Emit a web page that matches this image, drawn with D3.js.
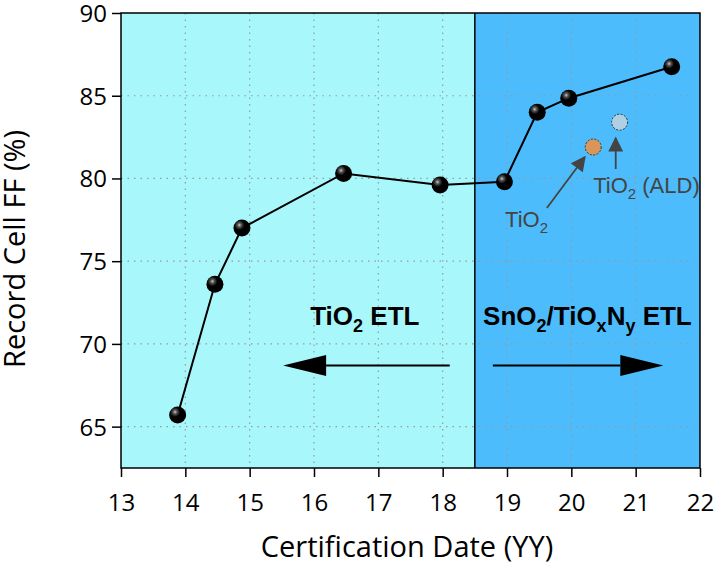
<!DOCTYPE html>
<html>
<head>
<meta charset="utf-8">
<script src="https://cdn.jsdelivr.net/npm/d3@7"></script>
<style>
  body { margin: 0; background: #fff; }
  svg { display: block; }
</style>
</head>
<body>
<svg width="715" height="564"></svg>
<script>
// Record cell FF data (date in YY, FF in %)
const years = [13.88, 14.46, 14.88, 16.46, 17.96, 18.96, 19.47, 19.96, 21.56];
const ffValues = [65.7, 73.6, 77.0, 80.3, 79.6, 79.8, 84.0, 84.85, 86.75];

// Extra single points
const extraNames = ["TiO2", "TiO2 (ALD)"];
const extraYears = [20.34, 20.75];
const extraValues = [81.9, 83.4];

const xTicks = [13, 14, 15, 16, 17, 18, 19, 20, 21, 22];
const yTicks = [65, 70, 75, 80, 85, 90];
const splitYear = 18.5;

const svg = d3.select("svg");
const margin = {top: 13, right: 15, bottom: 96, left: 121};
const width = 715 - margin.left - margin.right,
    height = 564 - margin.top - margin.bottom;

const x = d3.scaleLinear().domain([13, 22]).range([0, width]);
const y = d3.scaleLinear().domain([62.5, 90]).range([height, 0]);

const defs = svg.append("defs");
const grad = defs.append("radialGradient")
    .attr("id", "ball")
    .attr("cx", "35%").attr("cy", "32%").attr("r", "65%");
grad.append("stop").attr("offset", "0%").attr("stop-color", "#c8c8c8");
grad.append("stop").attr("offset", "18%").attr("stop-color", "#555");
grad.append("stop").attr("offset", "45%").attr("stop-color", "#000");
grad.append("stop").attr("offset", "100%").attr("stop-color", "#000");

defs.append("marker")
    .attr("id", "gray-head")
    .attr("viewBox", "0 0 10 10")
    .attr("refX", 9).attr("refY", 5)
    .attr("markerWidth", 17).attr("markerHeight", 15)
    .attr("markerUnits", "userSpaceOnUse")
    .attr("orient", "auto")
  .append("path")
    .attr("d", "M0,0 L10,5 L0,10 Z")
    .attr("fill", "#444");

const g = svg.append("g").attr("transform", `translate(${margin.left},${margin.top})`);

// Background regions
g.append("rect")
    .attr("x", 0).attr("y", 0)
    .attr("width", x(splitYear)).attr("height", height)
    .attr("fill", "#a8f7fb");
g.append("rect")
    .attr("x", x(splitYear)).attr("y", 0)
    .attr("width", width - x(splitYear)).attr("height", height)
    .attr("fill", "#4cbcfc");

// Dotted grid
g.selectAll(".gx")
    .data(xTicks.slice(1, -1))
    .join("line")
    .attr("x1", d => x(d)).attr("x2", d => x(d))
    .attr("y1", 0).attr("y2", height)
    .attr("stroke", "#999").attr("stroke-width", 1.2)
    .attr("stroke-dasharray", "1.5,5");
g.selectAll(".gy")
    .data(yTicks.slice(0, -1))
    .join("line")
    .attr("x1", 0).attr("x2", width)
    .attr("y1", d => y(d)).attr("y2", d => y(d))
    .attr("stroke", "#999").attr("stroke-width", 1.2)
    .attr("stroke-dasharray", "1.5,5");

// Divider
g.append("line")
    .attr("x1", x(splitYear)).attr("x2", x(splitYear))
    .attr("y1", 0).attr("y2", height)
    .attr("stroke", "#000").attr("stroke-width", 1.5);

// Axes
const xAxis = g.append("g")
    .attr("transform", `translate(0,${height})`)
    .call(d3.axisBottom(x).tickValues(xTicks).tickSize(9).tickPadding(17));
const yAxis = g.append("g")
    .call(d3.axisLeft(y).tickValues(yTicks).tickSize(9).tickPadding(5));
[xAxis, yAxis].forEach(a => {
    a.select(".domain").remove();
    a.selectAll("line").attr("stroke", "#000").attr("stroke-width", 1.5);
    a.selectAll("text")
        .attr("font-family", "'Open Sans', sans-serif")
        .attr("font-size", 24)
        .attr("fill", "#000");
});
yAxis.selectAll("text").attr("dy", "0.35em");

// Frame
g.append("rect")
    .attr("x", 0).attr("y", 0)
    .attr("width", width).attr("height", height)
    .attr("fill", "none").attr("stroke", "#000").attr("stroke-width", 1.5);

// Axis titles
svg.append("text")
    .attr("x", 407).attr("y", 557)
    .attr("text-anchor", "middle")
    .attr("font-family", "'Open Sans', sans-serif").attr("font-size", 29)
    .text("Certification Date (YY)");
svg.append("text")
    .attr("transform", "translate(25,249) rotate(-90)")
    .attr("text-anchor", "middle")
    .attr("font-family", "'Open Sans', sans-serif").attr("font-size", 29)
    .text("Record Cell FF (%)");

// Region labels
const lbl = g.append("text")
    .attr("x", x(16.79)).attr("y", y(71.15))
    .attr("text-anchor", "middle")
    .attr("font-family", "'Liberation Sans', Arial, sans-serif")
    .attr("font-weight", "bold").attr("font-size", 26);
lbl.append("tspan").text("TiO");
lbl.append("tspan").attr("font-size", 18).attr("dy", 7).text("2");
lbl.append("tspan").attr("dy", -7).text(" ETL");

const lbl2 = g.append("text")
    .attr("x", x(20.25)).attr("y", y(71.15))
    .attr("text-anchor", "middle")
    .attr("font-family", "'Liberation Sans', Arial, sans-serif")
    .attr("font-weight", "bold").attr("font-size", 26);
lbl2.append("tspan").text("SnO");
lbl2.append("tspan").attr("font-size", 18).attr("dy", 7).text("2");
lbl2.append("tspan").attr("dy", -7).text("/TiO");
lbl2.append("tspan").attr("font-size", 18).attr("dy", 7).text("x");
lbl2.append("tspan").attr("dy", -7).text("N");
lbl2.append("tspan").attr("font-size", 18).attr("dy", 7).text("y");
lbl2.append("tspan").attr("dy", -7).text(" ETL");

// Big direction arrows
function bigArrow(x0, x1, yv) {
    const dir = Math.sign(x1 - x0);
    const py = y(yv);
    const headLen = 43, headHalf = 10.5;
    g.append("line")
        .attr("x1", x(x0)).attr("x2", x(x1) - dir * headLen)
        .attr("y1", py).attr("y2", py)
        .attr("stroke", "#000").attr("stroke-width", 2);
    g.append("path")
        .attr("d", `M${x(x1)},${py} L${x(x1) - dir * headLen},${py - headHalf} L${x(x1) - dir * headLen},${py + headHalf} Z`)
        .attr("fill", "#000");
}
bigArrow(18.11, 15.52, 68.7);
bigArrow(18.78, 21.43, 68.7);

// Connecting line
const line = d3.line().x((d, i) => x(years[i])).y(d => y(d));
g.append("path")
    .datum(ffValues)
    .attr("d", line)
    .attr("fill", "none")
    .attr("stroke", "#000")
    .attr("stroke-width", 2);

// Sphere markers
g.selectAll(".ball")
    .data(ffValues)
    .join("circle")
    .attr("cx", (d, i) => x(years[i]))
    .attr("cy", d => y(d))
    .attr("r", 8.5)
    .attr("fill", "url(#ball)");

// Extra points
const extraFill = ["#d9965a", "#aed0e2"];
g.selectAll(".extra")
    .data(extraValues)
    .join("circle")
    .attr("cx", (d, i) => x(extraYears[i]))
    .attr("cy", d => y(d))
    .attr("r", 8)
    .attr("fill", (d, i) => extraFill[i])
    .attr("stroke", "#333")
    .attr("stroke-width", 1)
    .attr("stroke-dasharray", "2,1.5");

// Annotation arrows
g.append("line")
    .attr("x1", x(19.62)).attr("y1", y(78.21))
    .attr("x2", x(20.21)).attr("y2", y(81.3))
    .attr("stroke", "#444").attr("stroke-width", 1.8)
    .attr("marker-end", "url(#gray-head)");
g.append("line")
    .attr("x1", x(20.69)).attr("y1", y(80.57))
    .attr("x2", x(20.69)).attr("y2", y(82.44))
    .attr("stroke", "#444").attr("stroke-width", 1.8)
    .attr("marker-end", "url(#gray-head)");

// Annotation labels
const a1 = g.append("text")
    .attr("x", x(18.97)).attr("y", y(77.07))
    .attr("font-family", "'Liberation Sans', Arial, sans-serif")
    .attr("font-size", 22).attr("fill", "#444");
a1.append("tspan").text("TiO");
a1.append("tspan").attr("font-size", 15).attr("dy", 6).text("2");

const a2 = g.append("text")
    .attr("x", x(20.34)).attr("y", y(79.12))
    .attr("font-family", "'Liberation Sans', Arial, sans-serif")
    .attr("font-size", 22).attr("fill", "#444");
a2.append("tspan").text("TiO");
a2.append("tspan").attr("font-size", 15).attr("dy", 6).text("2");
a2.append("tspan").attr("dy", -6).text(" (ALD)");
</script>
</body>
</html>
